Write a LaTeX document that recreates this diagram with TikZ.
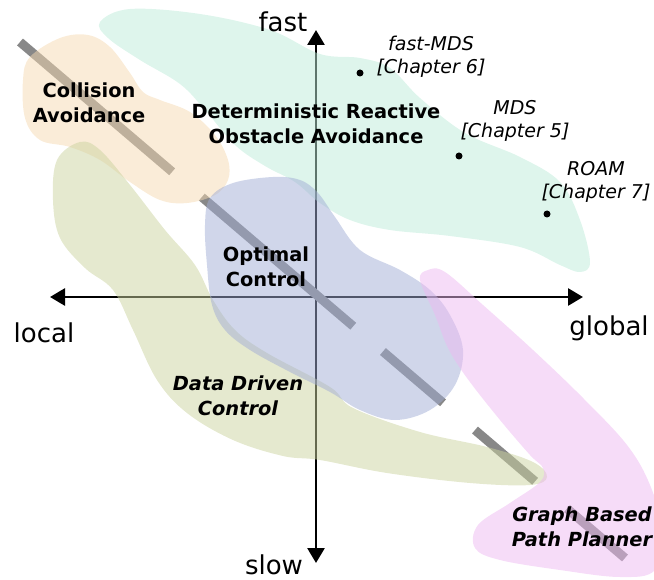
\documentclass[tikz,border=0pt]{standalone}
\usepackage{fontspec}
\setmainfont{DejaVu Sans}
\usetikzlibrary{arrows.meta}
\definecolor{mintc}{RGB}{189,235,217}
\definecolor{orangec}{RGB}{245,217,177}
\definecolor{olivec}{RGB}{203,211,159}
\definecolor{bluec}{RGB}{161,173,213}
\definecolor{pinkc}{RGB}{237,185,241}
\definecolor{trendgray}{RGB}{136,136,136}
\begin{document}
\begin{tikzpicture}[x=1pt,y=-1pt,
  blob/.style={fill opacity=0.5},
  axis/.style={line width=2.8pt,
    {Triangle[length=15pt,width=17pt]}-{Triangle[length=15pt,width=17pt]}},
  trend/.style={line width=9pt, trendgray,
    dash pattern=on 200pt off 39pt on 199pt off 39pt on 79pt off 42pt on 79pt off 42pt on 80pt},
  axislabel/.style={font=\fontsize{26}{30}\selectfont, inner sep=0pt},
  region/.style={font=\fontsize{19.4}{25}\selectfont\bfseries, align=center, inner sep=0pt},
  regionit/.style={font=\fontsize{19.4}{25}\selectfont\bfseries\itshape, align=center, inner sep=0pt},
  method/.style={font=\fontsize{19}{23}\selectfont\itshape, align=center, inner sep=0pt},
  dot/.style={circle, fill=black, inner sep=0pt, minimum size=7pt}]
\useasboundingbox (0,0) rectangle (654,580);

% axes
\coordinate (top) at (316,30);
\coordinate (bottom) at (316,563);
\coordinate (left) at (50,297);
\coordinate (right) at (583,297);
\draw[axis] (bottom) -- (top);
\draw[axis] (left) -- (right);

% local/fast to global/slow trend
\coordinate (ts) at (20,42);
\coordinate (te) at (625,558);
\draw[trend] (ts) -- (te);

% method families
\fill[blob, mintc] plot[smooth cycle, tension=0.6] coordinates {
  (100,22) (130,9) (200,14) (270,30) (320,54) (360,58) (390,68) (420,98)
  (465,133) (520,157) (560,182) (580,220) (590,262) (580,272)
  (560,265) (520,247) (450,236) (390,230) (350,220) (320,203) (295,182)
  (265,166) (235,145) (205,110) (180,84) (140,60) (108,38)};
\fill[blob, orangec] plot[smooth cycle, tension=0.6] coordinates {
  (23,80) (30,57) (60,38) (88,35) (110,47) (130,73) (143,92) (160,100)
  (190,112) (215,135) (228,160) (228,180) (215,195) (187,203) (160,200)
  (130,182) (100,160) (70,147) (40,140) (25,118)};
\fill[blob, olivec] plot[smooth cycle, tension=0.6] coordinates {
  (57,160) (80,142) (100,150) (130,185) (165,230) (195,265) (213,300)
  (235,330) (267,353) (330,387) (353,408) (420,432) (487,447) (533,462)
  (547,477) (530,485) (470,483) (387,473) (320,460) (283,456) (233,440)
  (187,413) (157,380) (133,330) (113,290) (85,268) (60,238) (53,200)};
\fill[blob, bluec] plot[smooth cycle, tension=0.6] coordinates {
  (210,198) (233,183) (273,177) (300,180) (318,193) (335,217) (360,250)
  (400,270) (430,290) (450,315) (463,350) (455,385) (430,410) (395,420)
  (360,410) (330,392) (290,372) (250,350) (225,330) (212,305) (207,265)
  (205,225)};
\fill[blob, pinkc] plot[smooth cycle, tension=0.6] coordinates {
  (420,280) (428,270) (445,272) (483,305) (533,350) (583,398) (627,445)
  (650,485) (662,530) (655,570) (620,577) (560,570) (500,560) (475,548)
  (478,525) (510,503) (540,482) (543,468) (530,455) (500,420) (467,378)
  (448,348) (435,315)};

% axis labels
\node[axislabel] (fast) at (283,22) {fast};
\node[axislabel] (slow) at (274,565) {slow};
\node[axislabel] (local) at (44,333) {local};
\node[axislabel] (global) at (609,328) {global};

% region labels
\node[region] (ca) at (89,103) {Collision\\Avoidance};
\node[region] (droa) at (316,124) {Deterministic Reactive\\Obstacle Avoidance};
\node[region] (oc) at (266,267) {Optimal\\Control};
\node[regionit] (ddc) at (238,396) {Data Driven\\Control};
\node[regionit] (gbpp) at (582,527) {Graph Based\\Path Planner};

% individual methods
\node[dot] (pfmds) at (360,73) {};
\node[dot] (pmds) at (459,156) {};
\node[dot] (proam) at (547,214) {};
\node[method] (fmds) at (431,57) {fast-MDS\\{}[Chapter 6]};
\node[method] (mds) at (515,121) {MDS\\{}[Chapter 5]};
\node[method] (roam) at (596,182) {ROAM\\{}[Chapter 7]};
\end{tikzpicture}
\end{document}
